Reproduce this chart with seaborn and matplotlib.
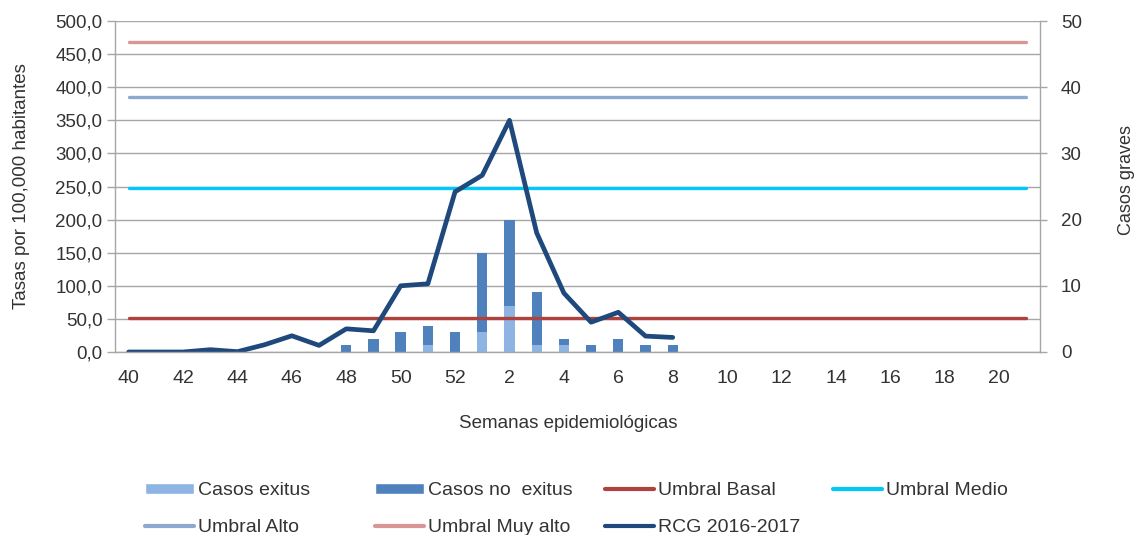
import numpy as np
import pandas as pd
import matplotlib
matplotlib.use("Agg")
import matplotlib.pyplot as plt
import seaborn as sns
from matplotlib.patches import Patch
from matplotlib.lines import Line2D

# ---------------- data ----------------
weeks = [str(w) for w in list(range(40, 53)) + list(range(1, 22))]
tick_weeks = ["40", "42", "44", "46", "48", "50", "52", "2", "4", "6", "8",
              "10", "12", "14", "16", "18", "20"]
rcg = [0, 0, 0, 3.5, 0.5, 11, 24.5, 10, 35, 32, 100, 103, 242, 267, 350,
       180, 89, 45, 60, 24, 22]
casos_exitus = [0, 0, 0, 0, 0, 0, 0, 0, 0, 0, 0, 1, 0, 3, 7, 1, 1, 0, 0, 0, 0,
                0, 0, 0, 0, 0, 0, 0, 0, 0, 0, 0, 0, 0]
casos_no_exitus = [0, 0, 0, 0, 0, 0, 0, 0, 1, 2, 3, 3, 3, 12, 13, 8, 1, 1, 2, 1, 1,
                   0, 0, 0, 0, 0, 0, 0, 0, 0, 0, 0, 0, 0]
umbral_basal = 51
umbral_medio = 247
umbral_alto = 385
umbral_muy_alto = 469

# ---------------- style ----------------
sns.set_theme(style="white")
plt.rcParams["font.family"] = ["Liberation Sans", "DejaVu Sans"]
txt = "#333333"
gridc = "#A6A6A6"

c_exitus = "#8DB4E2"
c_noexitus = "#4F81BD"
c_basal = "#B0423E"
c_medio = "#00C8F8"
c_alto = "#8EA8D2"
c_muyalto = "#D99694"
c_rcg = "#1F497D"

n = len(weeks)
idx = np.arange(n)
total = [a + b for a, b in zip(casos_exitus, casos_no_exitus)]

fig = plt.figure(figsize=(11.34, 5.35), dpi=100)
ax = fig.add_axes([115 / 1134, 1 - 352 / 535, 925 / 1134, 331 / 535])
ax2 = ax.twinx()

# bars on secondary (right) axis, behind
df_b = pd.DataFrame({"x": idx, "total": total, "exitus": casos_exitus})
sns.barplot(data=df_b, x="x", y="total", ax=ax2, color=c_noexitus,
            saturation=1, width=0.38, linewidth=0)
sns.barplot(data=df_b, x="x", y="exitus", ax=ax2, color=c_exitus,
            saturation=1, width=0.38, linewidth=0)

# lines on primary (left) axis, on top
ax.set_zorder(ax2.get_zorder() + 1)
ax.patch.set_visible(False)

for val, col in [(umbral_basal, c_basal), (umbral_medio, c_medio),
                 (umbral_alto, c_alto), (umbral_muy_alto, c_muyalto)]:
    sns.lineplot(x=idx, y=[val] * n, ax=ax, color=col, linewidth=2.4)
sns.lineplot(x=idx[:len(rcg)], y=rcg, ax=ax, color=c_rcg, linewidth=3.4)

# axes limits and ticks
ax.set_xlim(-0.5, n - 0.5)
ax.set_ylim(0, 500)
ax2.set_ylim(0, 50)

ax.set_yticks(np.arange(0, 501, 50))
ax.set_yticklabels([f"{v:.1f}".replace(".", ",") for v in np.arange(0, 501, 50)],
                   fontsize=13.5, color=txt)
ax2.set_yticks(np.arange(0, 51, 10))
ax2.set_yticklabels([str(v) for v in range(0, 51, 10)], fontsize=13.5, color=txt)
ax2.set_yticks(np.arange(0, 51, 5), minor=True)
ax2.grid(True, which="both", axis="y", color=gridc, linewidth=1.0)
ax2.grid(False, axis="x")
ax.grid(False)

tick_pos = [weeks.index(w) for w in tick_weeks]
ax.set_xticks(tick_pos)
ax.set_xticklabels(tick_weeks, fontsize=14, color=txt)
ax.set_xticks(np.arange(-0.5, n, 1), minor=True)
ax.tick_params(axis="x", which="major", length=0, pad=13)
ax.tick_params(axis="x", which="minor", length=6, width=1, color=gridc, direction="out")
ax.tick_params(axis="y", which="major", length=6, width=1, color=gridc, pad=3, left=True)
ax2.tick_params(axis="y", which="major", length=5, width=1, color=gridc, pad=10, right=True)
ax2.tick_params(axis="y", which="minor", length=0)
ax2.tick_params(axis="x", bottom=False, labelbottom=False)
ax2.set_xlabel("")

for a in (ax, ax2):
    for s in ("left", "right", "bottom"):
        a.spines[s].set_color(gridc)
        a.spines[s].set_linewidth(1.0)
    a.spines["top"].set_visible(False)
ax.spines["right"].set_visible(False)
ax2.spines["left"].set_visible(False)
ax2.spines["bottom"].set_visible(False)

ax.set_ylabel("Tasas por 100,000 habitantes", fontsize=13.5, color=txt)
ax.yaxis.set_label_coords(-0.092, 0.5)
ax2.set_ylabel("Casos graves", fontsize=13, color=txt)
ax2.yaxis.set_label_coords(1.084, 0.52)
ax.set_xlabel("Semanas epidemiológicas", fontsize=13.5, color=txt)
ax.xaxis.set_label_coords(0.49, -0.19)

# legend: 4 columns, 2 rows, equally spaced like the original
row0 = [Patch(facecolor=c_exitus, label="Casos exitus"),
        Patch(facecolor=c_noexitus, label="Casos no  exitus"),
        Line2D([], [], color=c_basal, lw=3, label="Umbral Basal"),
        Line2D([], [], color=c_medio, lw=3, label="Umbral Medio")]
row1 = [Line2D([], [], color=c_alto, lw=3, label="Umbral Alto"),
        Line2D([], [], color=c_muyalto, lw=3, label="Umbral Muy alto"),
        Line2D([], [], color=c_rcg, lw=3, label="RCG 2016-2017"),
        None]
col_x = [145, 375, 605, 833]
for j, xpx in enumerate(col_x):
    hs = [h for h in (row0[j], row1[j]) if h is not None]
    fig.legend(handles=hs, loc="upper left",
               bbox_to_anchor=(xpx / 1134, 1 - 482 / 535),
               frameon=False, fontsize=14, handlelength=2.5, handleheight=0.5,
               handletextpad=0.25, labelspacing=1.05, borderpad=0, borderaxespad=0,
               labelcolor=txt)

fig.savefig("out.png", dpi=100)
